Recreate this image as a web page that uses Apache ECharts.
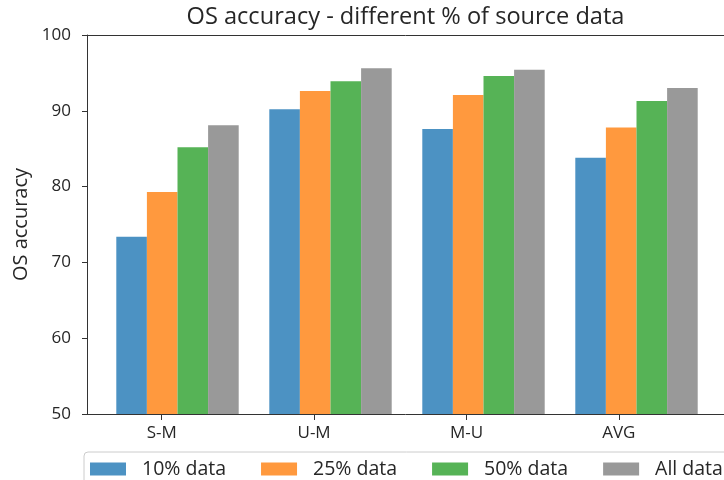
<!DOCTYPE html>
<html lang="en">
<head>
    <meta charset="UTF-8">
    <title>OS accuracy - different % of source data</title>
    <script src="https://cdn.jsdelivr.net/npm/echarts@6/dist/echarts.min.js"></script>
    <style>
        html, body { margin: 0; padding: 0; background: #fff; }
    </style>
</head>
<body>
    <div id="chart" style="width: 724px;height: 480px;"></div>
<script>
    // categories and values
    var categories = ['S-M', 'U-M', 'M-U', 'AVG'];
    var seriesNames = ['10% data', '25% data', '50% data', 'All data'];
    var data10 = [73.4, 90.2, 87.6, 83.8];
    var data25 = [79.3, 92.6, 92.1, 87.8];
    var data50 = [85.2, 93.9, 94.6, 91.3];
    var dataAll = [88.1, 95.6, 95.4, 93.0];
    var yTicks = [50, 60, 70, 80, 90, 100];

    var colors = ['#4c92c3', '#ff993e', '#56b356', '#999999'];
    var textColor = '#262626';
    var lineColor = '#333333';
    var font = 'Open Sans';

    var chart = echarts.init(document.getElementById('chart'));

    // grid 0 = axes frame (spines, ticks, labels); grid 1 = bars
    var frame = { left: 87, top: 35, width: 640, height: 379 };
    var barsGrid = { left: 101, top: 35, width: 612, height: 379 };

    var allSeries = [data10, data25, data50, dataAll].map(function (vals, i) {
        return {
            name: seriesNames[i],
            type: 'bar',
            xAxisIndex: 1,
            yAxisIndex: 1,
            barWidth: 30.6,
            barGap: '0%',
            itemStyle: { color: colors[i] },
            data: vals
        };
    });

    var option = {
        animation: false,
        title: {
            text: 'OS accuracy - different % of source data',
            left: 405.5,
            top: 5,
            padding: 0,
            textAlign: 'center',
            textStyle: {
                fontFamily: font,
                fontWeight: 'normal',
                fontSize: 23.6,
                color: textColor
            }
        },
        legend: {
            data: seriesNames,
            left: 84,
            top: 452,
            width: 800,
            orient: 'horizontal',
            icon: 'rect',
            itemWidth: 36,
            itemHeight: 13,
            itemGap: 35,
            padding: [7, 6, 7, 6],
            borderColor: '#cccccc',
            borderWidth: 1,
            borderRadius: 4,
            textStyle: {
                fontFamily: font,
                fontSize: 19.5,
                color: textColor,
                padding: [0, 0, 0, 11]
            }
        },
        grid: [
            { left: frame.left, top: frame.top, width: frame.width, height: frame.height },
            { left: barsGrid.left, top: barsGrid.top, width: barsGrid.width, height: barsGrid.height }
        ],
        xAxis: [
            {
                type: 'value',
                gridIndex: 0,
                min: -0.49,
                max: 3.69,
                axisLine: { show: true, onZero: false, lineStyle: { color: lineColor, width: 1 } },
                axisTick: { show: true, length: 6, customValues: [0, 1, 2, 3], lineStyle: { color: lineColor } },
                axisLabel: {
                    customValues: [0, 1, 2, 3],
                    margin: 11,
                    fontFamily: font,
                    fontSize: 17,
                    color: textColor,
                    formatter: function (v) { return categories[Math.round(v)]; }
                },
                splitLine: { show: false }
            },
            {
                type: 'category',
                gridIndex: 1,
                data: categories,
                show: false
            },
            {
                type: 'value',
                gridIndex: 0,
                position: 'top',
                min: -0.49,
                max: 3.69,
                axisLine: { show: true, onZero: false, lineStyle: { color: lineColor, width: 1 } },
                axisTick: { show: false },
                axisLabel: { show: false },
                splitLine: { show: false }
            }
        ],
        yAxis: [
            {
                type: 'value',
                gridIndex: 0,
                min: yTicks[0],
                max: yTicks[yTicks.length - 1],
                interval: 10,
                name: 'OS accuracy',
                nameLocation: 'middle',
                nameGap: 54,
                nameTextStyle: { fontFamily: font, fontSize: 20, color: textColor },
                axisLine: { show: true, onZero: false, lineStyle: { color: lineColor, width: 1 } },
                axisTick: { show: true, length: 5, lineStyle: { color: lineColor } },
                axisLabel: { margin: 16, fontFamily: font, fontSize: 17, color: textColor },
                splitLine: { show: false }
            },
            {
                type: 'value',
                gridIndex: 1,
                min: yTicks[0],
                max: yTicks[yTicks.length - 1],
                show: false
            }
        ],
        series: allSeries
    };

    chart.setOption(option);
</script>
</body>
</html>
